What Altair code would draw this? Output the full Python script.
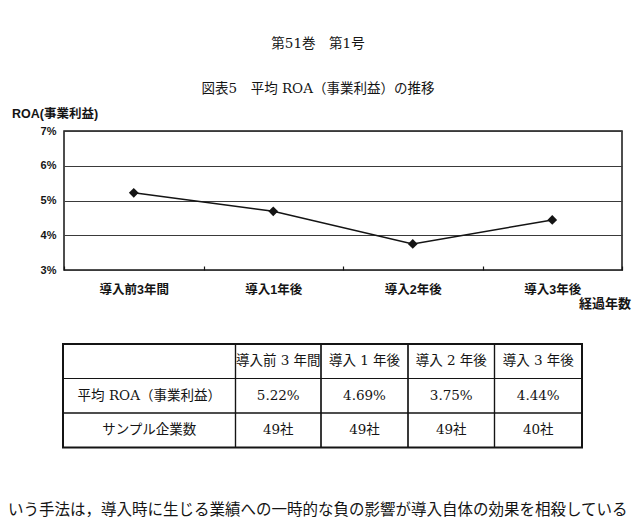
import altair as alt
import pandas as pd

# ---------------- data ----------------
categories = ["導入前3年間", "導入1年後", "導入2年後", "導入3年後"]
table_headers = ["導入前 3 年間", "導入 1 年後", "導入 2 年後", "導入 3 年後"]
roa_values = [5.22, 4.69, 3.75, 4.44]
sample_counts = [49, 49, 49, 40]
row_labels = ["平均 ROA（事業利益）", "サンプル企業数"]
y_ticks = [3, 4, 5, 6, 7]

page_header = "第51巻　第1号"
figure_title = "図表5　平均 ROA（事業利益）の推移"
y_title = "ROA(事業利益)"
x_title = "経過年数"
body_text = "いう手法は，導入時に生じる業績への一時的な負の影響が導入自体の効果を相殺している"

# ---------------- layout ----------------
PLOT_L, PLOT_T, PLOT_W, PLOT_H = 64, 131, 558, 139
INK = "#141414"
SANS = "Liberation Sans, Noto Sans CJK JP"
SERIF = "DejaVu Serif, Noto Sans CJK JP"

line_df = pd.DataFrame({"cat": categories, "roa": roa_values})

line = alt.Chart(line_df).mark_line(
    color=INK, strokeWidth=1.5,
    point=alt.OverlayMarkDef(shape="diamond", size=95, filled=True, color=INK, opacity=1),
).encode(
    x=alt.X("cat:N", sort=categories,
            scale=alt.Scale(type="band", paddingInner=0, paddingOuter=0),
            axis=alt.Axis(title=None, labelAngle=0, domain=False, ticks=True,
                          tickBand="extent", tickSize=4, offset=-4, tickColor=INK,
                          tickWidth=1.2, labelPadding=13, labelFont=SANS,
                          labelFontSize=12.5, labelFontWeight="bold", labelColor=INK,
                          grid=False)),
    y=alt.Y("roa:Q", scale=alt.Scale(domain=[3, 7], nice=False, zero=False),
            axis=alt.Axis(title=None, values=y_ticks, labelExpr="datum.value + '%'",
                          domain=False, ticks=False, grid=True, gridColor="#3a3a3a",
                          gridWidth=1.2, labelPadding=8, labelFont=SANS,
                          labelFontSize=11, labelFontWeight="bold", labelColor=INK)),
)

# ---------------- table ----------------
col_edges = [0, 1, 2, 3, 4, 5]
col_px = [63 - PLOT_L, 235.5 - PLOT_L, 321 - PLOT_L, 408 - PLOT_L, 494.5 - PLOT_L, 582 - PLOT_L]
row_edges = [0, 1, 2, 3]
row_px = [344 - PLOT_T, 378.5 - PLOT_T, 413 - PLOT_T, 447.5 - PLOT_T]

cells = []
grid_rows = [[""] + table_headers,
             [row_labels[0]] + [f"{v:.2f}%" for v in roa_values],
             [row_labels[1]] + [f"{n}社" for n in sample_counts]]
for r, row in enumerate(grid_rows):
    for c, txt in enumerate(row):
        cells.append({"c0": c, "c1": c + 1, "r0": r, "r1": r + 1,
                      "cx": c + 0.5, "cy": r + 0.5, "txt": txt})
cells_df = pd.DataFrame(cells)

xs = alt.Scale(domain=col_edges, range=col_px, nice=False, zero=False)
ys = alt.Scale(domain=row_edges, range=row_px, nice=False, zero=False)

table_cells = alt.Chart(cells_df).mark_rect(
    fill=None, stroke=INK, strokeWidth=1.2
).encode(
    x=alt.X("c0:Q", scale=xs, axis=None), x2="c1:Q",
    y=alt.Y("r0:Q", scale=ys, axis=None), y2="r1:Q",
)

border_df = pd.DataFrame({"c0": [0], "c1": [5], "r0": [0], "r1": [3]})
table_border = alt.Chart(border_df).mark_rect(
    fill=None, stroke=INK, strokeWidth=2
).encode(
    x=alt.X("c0:Q", scale=xs, axis=None), x2="c1:Q",
    y=alt.Y("r0:Q", scale=ys, axis=None), y2="r1:Q",
)

table_text = alt.Chart(cells_df).mark_text(
    font=SERIF, fontSize=13.5, color=INK, align="center", baseline="middle"
).encode(
    x=alt.X("cx:Q", scale=xs, axis=None),
    y=alt.Y("cy:Q", scale=ys, axis=None),
    text="txt:N",
)


def label(text, x, y, size, font, weight="normal", align="center"):
    return alt.Chart(alt.Data(values=[{}])).mark_text(
        text=text, font=font, fontSize=size, fontWeight=weight, color=INK,
        align=align, baseline="middle"
    ).encode(x=alt.value(x - PLOT_L), y=alt.value(y - PLOT_T))


texts = [
    label(page_header, 318, 44, 13.5, SERIF),
    label(figure_title, 318, 89, 13.5, SERIF),
    label(y_title, 12, 114, 12.5, SANS, "bold", "left"),
    label(x_title, 631, 304, 13, SANS, "bold", "right"),
    label(body_text, 8, 510, 15.5, SERIF, "normal", "left"),
]

chart = alt.layer(line, table_cells, table_border, table_text, *texts).resolve_scale(
    x="independent", y="independent"
).properties(
    width=PLOT_W, height=PLOT_H,
    autosize=alt.AutoSizeParams(type="none"),
    padding={"left": PLOT_L, "top": PLOT_T, "right": 634 - PLOT_L - PLOT_W,
             "bottom": 527 - PLOT_T - PLOT_H},
    background="white",
).configure_view(stroke=INK, strokeWidth=1.5)

chart.save("out.html", embed_options={"renderer": "svg", "actions": False})
